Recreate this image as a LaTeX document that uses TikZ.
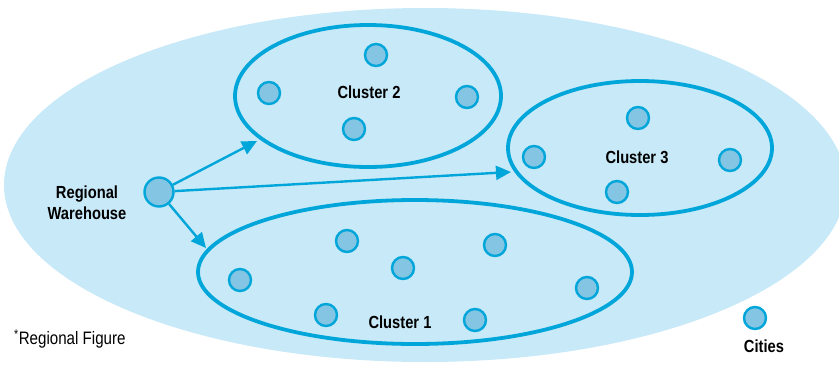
\documentclass[tikz,border=0pt]{standalone}
\usepackage{fontspec}
\setmainfont{Liberation Sans}[FakeStretch=0.84]
\usetikzlibrary{shapes.geometric,arrows.meta}
\definecolor{lineblue}{RGB}{0,166,218}
\definecolor{bgblue}{RGB}{200,233,248}
\definecolor{cityfill}{RGB}{132,197,227}
\tikzset{
  city/.style={circle,draw=lineblue,fill=cityfill,line width=2.4pt,minimum size=22pt,inner sep=0pt},
  cluster/.style={ellipse,draw=lineblue,line width=3.8pt,inner sep=0pt},
  lbl/.style={font=\bfseries\fontsize{17.5}{19}\selectfont,text=black,align=center,inner sep=0pt},
  arr/.style={draw=lineblue,line width=2.4pt,-{Triangle[length=15pt,width=14pt]}}
}
\begin{document}
\begin{tikzpicture}[x=1pt,y=-1pt]
\useasboundingbox (0,0) rectangle (839,365);
\fill[bgblue] (425,185) ellipse [x radius=421, y radius=177];
% clusters
\node[cluster,minimum width=266pt,minimum height=142pt] (c2) at (368,96) {};
\node[cluster,minimum width=264pt,minimum height=134pt] (c3) at (640,148) {};
\node[cluster,minimum width=434pt,minimum height=144pt] (c1) at (415,272) {};
% cities cluster 2
\node[city] (a1) at (376,55) {};
\node[city] (a2) at (269,93) {};
\node[city] (a3) at (467,97) {};
\node[city] (a4) at (354,129) {};
% cities cluster 3
\node[city] (b1) at (638,118) {};
\node[city] (b2) at (534,157) {};
\node[city] (b3) at (730,160) {};
\node[city] (b4) at (617,192) {};
% cities cluster 1
\node[city] (d1) at (347,241) {};
\node[city] (d2) at (495,245) {};
\node[city] (d3) at (403,268) {};
\node[city] (d4) at (240,280) {};
\node[city] (d5) at (587,288) {};
\node[city] (d6) at (326,315) {};
\node[city] (d7) at (475,320) {};
% labels
\node[lbl] (l2) at (369,92) {Cluster 2};
\node[lbl] (l3) at (637,157) {Cluster 3};
\node[lbl] (l1) at (400,322) {Cluster 1};
% warehouse
\node[city,minimum size=29pt] (wh) at (159,192) {};
\node[lbl,font=\bfseries\fontsize{17.5}{21}\selectfont] (whl) at (87,203) {Regional\\Warehouse};
\coordinate (e2) at (257,141);
\coordinate (e3) at (511,172);
\coordinate (e1) at (206,248);
\draw[arr] (wh) -- (e2);
\draw[arr] (wh) -- (e3);
\draw[arr] (wh) -- (e1);
% legend
\node[city] (leg) at (755,318) {};
\node[lbl] (legl) at (764,346) {Cities};
\node[font=\fontsize{18}{20}\selectfont,inner sep=0pt,anchor=west] (note) at (14,339) {\textsuperscript{*}Regional Figure};
\end{tikzpicture}
\end{document}
